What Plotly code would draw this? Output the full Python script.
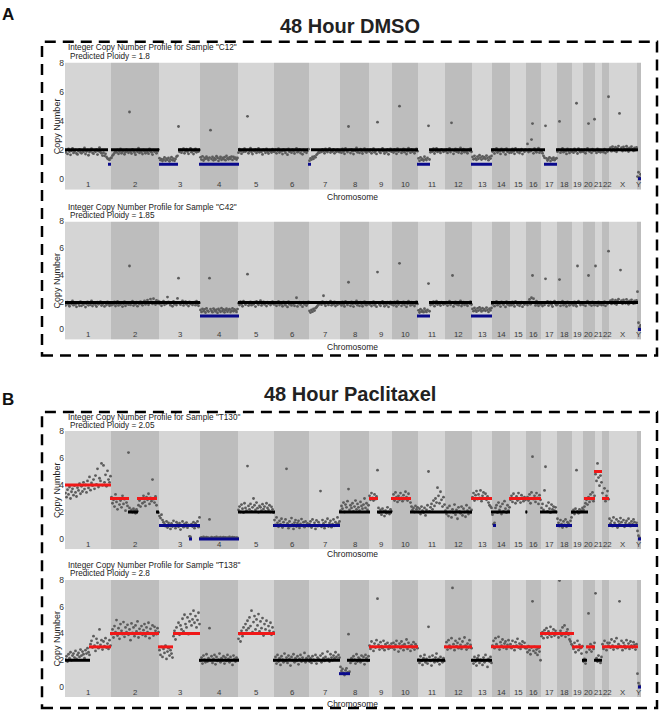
import plotly.graph_objects as go

# ---------------- data ----------------
chrom_names = ["1","2","3","4","5","6","7","8","9","10","11","12","13","14","15","16","17","18","19","20","21","22","X","Y"]
chrom_bins = [46,48,41,38,36,35,31,29,23,26,27,27,20,18,16,15,16,15,11,12,7,7,28,4]

sample_names = ["C12", "C42", "T130", "T138"]
sample_ploidy = ["1.8", "1.85", "2.05", "2.8"]

# raw copy number per bin (x100), one list per chromosome
c12_raw = [
 [182,196,171,205,188,165,193,210,178,186,199,174,168,191,203,181,176,195,185,212,170,188,197,162,184,192,207,179,173,194,186,201,167,190,215,183,175,160,180,158,172,150,140,135,130,142],
 [145,160,168,178,190,182,199,172,188,205,176,186,194,169,183,200,191,179,460,187,174,203,192,181,166,197,186,211,178,190,184,170,199,188,176,195,185,173,206,190,182,167,198,187,193,175,189,201],
 [142,128,136,122,133,147,125,138,130,144,120,134,149,127,139,124,137,152,158,360,186,201,180,195,208,176,192,204,187,172,198,210,183,196,170,190,205,182,194,188,199],
 [148,132,155,126,143,137,152,140,129,146,335,136,150,127,142,133,156,145,124,139,151,131,144,135,149,128,157,141,134,147,138,153,130,150,139,145,133,143],
 [180,204,190,173,199,185,207,188,195,430,176,193,211,184,170,197,189,203,178,191,209,182,196,186,168,201,192,179,206,187,174,198,190,181,204,188],
 [186,201,175,194,208,181,196,189,170,203,192,178,199,166,205,187,194,180,200,191,174,197,210,183,192,202,177,195,169,199,186,196,179,193,204],
 [125,140,132,150,138,155,148,165,172,182,180,196,185,203,192,176,205,190,184,199,210,181,194,188,202,175,193,186,200,189,183],
 [194,180,205,188,172,209,195,184,360,199,177,203,190,170,198,193,212,182,196,179,204,191,174,195,207,186,181,200,192],
 [188,201,176,194,207,182,192,171,390,199,186,178,196,209,190,174,195,184,202,169,192,205,187],
 [195,181,203,190,172,208,187,500,197,178,193,206,183,199,170,189,211,195,180,202,187,197,176,192,205,190],
 [140,124,148,131,137,126,152,135,129,144,365,133,182,199,188,207,174,193,210,185,198,190,178,203,195,186,197],
 [190,203,178,196,210,184,385,198,172,192,206,187,200,181,195,213,175,190,204,183,197,188,176,201,193,208,186],
 [150,134,158,141,130,153,138,162,146,132,155,140,149,136,160,144,128,151,139,157],
 [188,203,174,195,209,181,197,190,171,205,193,184,200,168,207,187,196,179],
 [194,181,206,189,172,209,196,184,199,177,190,204,170,195,186,201],
 [196,240,184,203,190,270,380,175,207,193,182,199,211,180,195],
 [190,176,158,145,365,140,126,136,148,122,139,131,145,128,137,142],
 [187,201,395,180,194,209,183,198,190,171,205,193,178,200,188],
 [195,180,205,189,520,174,208,194,183,199,190],
 [185,200,176,195,209,380,188,197,179,204,192,410],
 [193,178,205,187,199,182,196],
 [196,183,204,177,198,188,565],
 [202,215,190,222,205,193,218,186,210,225,450,200,214,191,220,206,195,224,208,188,213,199,221,203,192,212,197,216],
 [15,45,10,30],
]
c42_raw = [
 [178,194,203,185,172,198,189,211,180,193,186,168,201,190,176,207,175,192,184,199,166,188,204,179,195,183,212,174,190,197,182,170,202,187,191,206,177,185,199,171,193,181,205,189,176,187],
 [180,196,187,204,174,190,208,178,193,185,201,170,189,206,176,192,199,184,470,182,195,210,177,191,186,203,173,194,188,207,190,179,198,212,186,202,218,183,196,225,205,189,228,200,185,215,194,209],
 [188,203,176,195,209,183,199,190,240,205,192,180,201,172,208,187,196,181,230,380,193,184,200,212,178,195,206,186,198,174,204,189,199,182,194,203,180,210,188,176,197],
 [145,130,153,136,148,126,157,140,133,380,151,138,128,155,144,134,147,124,152,141,131,158,137,149,127,143,154,132,146,150,129,139,156,135,148,142,130,151],
 [195,181,206,189,172,210,196,184,199,410,177,190,205,180,197,187,203,170,208,192,183,200,213,178,194,204,186,198,174,202,190,199,181,193,207,188],
 [186,200,176,194,208,181,197,189,172,204,191,180,199,167,206,187,195,178,201,190,175,197,235,171,193,203,183,194,169,202,186,198,177,191,205],
 [138,125,146,132,152,140,158,165,175,183,190,199,184,206,250,188,176,203,193,182,198,210,179,195,187,204,174,192,183,200,189],
 [193,178,204,187,171,208,194,182,350,199,176,205,189,170,197,192,211,180,196,175,203,190,172,194,207,184,180,200,191],
 [186,200,174,193,206,180,191,169,425,201,185,176,196,208,189,172,194,182,203,168,190,204,186],
 [196,179,204,188,171,209,185,490,198,175,192,205,182,199,168,188,210,194,178,202,185,197,174,191,206,189],
 [142,126,150,133,139,128,154,137,130,146,340,135,181,198,187,206,173,192,209,184,197,189,177,202,194,185,196],
 [189,202,177,195,209,183,197,400,171,191,205,186,199,180,194,212,174,189,203,182,196,187,175,200,192,207,185],
 [152,136,160,143,132,156,140,164,148,134,158,142,151,138,162,146,130,154,141,159],
 [187,202,173,194,208,180,196,189,170,204,192,183,199,167,206,186,195,178],
 [193,180,205,188,171,208,195,183,198,176,189,203,169,194,185,200],
 [194,181,205,222,187,235,400,228,201,178,209,190,176,198,186],
 [189,174,201,182,375,196,208,177,193,204,185,170,199,210,188,180],
 [186,202,370,175,195,209,180,198,189,171,204,193,179,200,188],
 [194,178,204,187,172,470,209,195,181,199,189],
 [182,200,175,195,210,400,186,198,177,204,192,180],
 [470,193,176,205,186,199,181],
 [197,182,206,175,199,188,580],
 [200,214,189,221,204,192,217,185,209,224,199,440,213,190,219,205,194,223,207,187,212,198,220,202,191,211,196,215],
 [280,50,15,30],
]
t130_raw = [
 [340,310,365,330,385,300,350,372,325,395,345,315,380,360,410,335,390,352,420,370,400,345,430,378,460,362,415,395,440,372,470,405,520,385,450,430,560,398,545,420,475,390,505,440,420,465],
 [310,265,290,240,330,275,220,300,255,285,235,320,260,295,210,270,245,640,230,205,215,198,225,210,190,220,205,250,285,240,300,265,320,275,245,310,290,335,260,305,280,440,295,270,315,250,200,195],
 [170,155,180,140,125,110,95,130,85,120,105,75,115,92,135,100,80,125,108,90,118,70,102,130,88,112,95,122,84,105,20,15,110,92,125,80,115,98,130,88,160],
 [8,12,5,15,10,6,14,9,11,145,7,13,10,4,12,8,15,6,11,9,13,5,10,14,8,12,7,11,9,15,6,10,13,8,12,5,10,9],
 [215,240,200,255,225,195,265,230,210,540,245,220,260,205,235,300,250,215,270,228,198,245,235,210,258,222,240,205,265,230,215,250,200,238,220,195],
 [140,105,160,120,90,135,110,150,85,125,100,145,520,115,80,130,95,155,108,75,122,140,92,118,135,82,112,148,98,125,88,130,105,115,95],
 [110,130,85,145,100,120,75,138,95,125,105,355,90,140,115,80,128,102,150,92,118,135,88,110,145,98,125,108,160,115,130],
 [210,245,225,270,200,255,235,280,370,215,250,230,265,205,240,285,220,260,235,210,275,245,225,255,300,230,265,215,250],
 [320,290,340,305,285,330,295,315,510,230,195,215,180,225,205,170,210,190,235,200,185,220,205],
 [300,330,285,345,310,275,320,290,340,305,280,325,295,350,310,285,335,300,270,240,215,230,200,245,220,235],
 [200,225,185,240,210,195,230,175,215,250,500,205,235,260,220,285,245,300,270,380,320,265,350,290,240,310,255],
 [210,185,230,170,245,200,160,220,195,255,180,215,150,235,205,190,240,175,225,200,165,250,210,185,230,195,215],
 [310,340,285,325,355,295,330,305,360,280,320,345,300,335,290,315,270,250,240,230],
 [180,110,120,230,250,195,270,215,240,185,260,205,280,225,195,250,210,235],
 [290,320,275,335,300,265,315,285,340,295,270,325,305,280,310,290],
 [200,310,285,330,265,345,610,295,320,275,340,305,260,325,290],
 [230,260,215,360,535,245,205,270,225,195,255,220,240,210,235,200],
 [150,120,95,140,110,85,130,105,145,90,125,115,100,135,160],
 [195,215,185,225,510,205,190,220,200,210,230],
 [215,240,265,290,255,310,275,330,295,345,280,320],
 [480,430,560,455,395,470,420],
 [340,300,375,280,320,355,295],
 [150,115,135,95,160,120,105,145,85,130,110,155,125,100,140,90,120,135,105,150,115,95,130,110,145,125,100,120],
 [60,25,10,5],
]
t138_raw = [
 [205,230,190,245,215,260,200,235,250,220,270,210,240,255,225,280,235,265,245,215,275,250,290,260,240,320,345,295,380,310,270,360,330,290,430,315,350,280,340,305,365,295,325,285,350,310],
 [395,430,370,455,410,500,385,440,360,470,420,395,485,375,445,410,465,390,430,350,475,405,445,380,460,415,490,370,435,405,455,390,425,470,380,445,410,480,365,435,400,460,385,450,420,395,440,410],
 [275,240,300,225,285,255,310,210,265,290,235,275,250,220,380,420,355,445,400,480,390,460,430,510,415,540,470,445,520,395,490,545,460,505,570,480,530,445,500,555,470],
 [195,220,175,235,205,185,245,190,215,440,200,230,180,210,240,170,225,195,205,250,185,215,200,230,175,220,195,240,210,185,225,200,165,235,210,190,220,205],
 [360,395,340,420,380,445,400,470,425,495,440,520,455,570,410,485,530,430,505,460,545,415,490,440,515,385,470,430,495,400,455,420,480,390,445,410],
 [200,225,175,240,190,215,165,230,205,185,250,195,220,180,235,210,160,225,200,245,185,215,195,230,170,210,240,190,220,200,255,185,215,205,230],
 [190,215,180,230,205,195,240,175,220,210,200,235,185,250,215,195,225,205,265,210,190,245,220,200,235,215,260,225,205,240,220],
 [150,120,135,105,90,125,140,110,395,115,180,215,195,230,205,175,245,190,220,210,185,235,200,225,170,240,215,195,230],
 [310,285,340,300,270,325,295,350,660,315,280,335,305,290,345,275,320,300,330,285,310,295,325],
 [295,330,280,315,345,300,265,325,290,340,310,275,320,300,355,285,330,305,270,315,295,335,280,320,305,290],
 [205,180,230,195,165,215,240,185,210,175,450,225,195,160,235,205,185,220,250,190,210,170,225,200,185,215,195],
 [300,335,280,350,310,290,365,740,320,275,345,305,330,290,360,315,285,340,300,370,310,280,325,295,350,315,290],
 [200,175,225,190,160,215,235,180,205,195,165,220,185,240,200,150,210,190,225,180],
 [310,345,290,365,320,300,375,280,335,310,355,295,325,340,285,315,350,300],
 [320,290,345,305,275,335,310,360,295,325,285,315,340,300,330,290],
 [290,260,305,275,245,295,640,270,300,255,280,240,290,265,200],
 [380,410,365,425,395,440,370,415,390,450,375,405,430,385,420,395],
 [400,370,795,420,385,445,395,460,375,410,430,390,355,340,320],
 [310,285,330,260,300,345,275,315,290,250,305],
 [190,210,175,260,300,550,280,320,265,305,285,330],
 [700,215,190,235,200,180,225],
 [320,285,345,300,275,330,310],
 [330,295,355,310,280,340,300,365,290,320,640,305,345,275,330,310,290,350,300,325,285,340,310,295,335,315,280,320],
 [100,30,10,5],
]

# integer copy-number segments (bin coordinates)
c12_seg_start = [0,43,46,94,113,134,173,243,246,352,364,406,426,479,491,573]
c12_seg_end   = [43,46,94,113,135,174,243,246,353,365,407,427,480,492,573,576]
c12_seg_cn    = [2,1,2,1,2,1,2,1,2,1,2,1,2,1,2,0]

c42_seg_start = [0,135,173,352,364,406,426,573]
c42_seg_end   = [135,174,353,365,407,427,573,576]
c42_seg_cn    = [2,1,2,1,2,1,2,0]

t130_seg_start = [0,45,63,72,91,94,124,134,173,208,274,304,312,326,345,406,426,428,444,460.5,475,491,506,519,529,537,543,573]
t130_seg_end   = [46,64,73,92,94,135,127,174,210,275,305,313,327,346,407,427,445,431,476,462,492,507,523,530,537,544,573,576]
t130_seg_cn    = [4,3,2,3,2,1,0,0,2,1,2,3,2,3,2,3,2,1,3,2,2,1,2,3,5,3,1,0]

t138_seg_start = [0,24,45,93,108,134,173,208,274,282,304,352,379,406,426,475,507,517,521,529,537,573]
t138_seg_end   = [25,46,94,108,135,174,210,275,285,305,353,380,407,427,476,509,518,522,530,537,573,576]
t138_seg_cn    = [2,3,4,3,4,2,4,2,1,2,3,2,3,2,3,4,3,2,3,2,3,0]

# ---------------- figure ----------------
W, H = 660, 710
FONT = "Liberation Sans, Arial, Helvetica, sans-serif"

def px(x):
    return x / W

def py(y):
    return 1 - y / H

raws = [c12_raw, c42_raw, t130_raw, t138_raw]
segs = [
    (c12_seg_start, c12_seg_end, c12_seg_cn),
    (c42_seg_start, c42_seg_end, c42_seg_cn),
    (t130_seg_start, t130_seg_end, t130_seg_cn),
    (t138_seg_start, t138_seg_end, t138_seg_cn),
]

starts = []
acc = 0
for b in chrom_bins:
    starts.append(acc)
    acc += b
total_bins = acc
centers = [s + b / 2 for s, b in zip(starts, chrom_bins)]
label_shift = {"20": -1, "21": -0.5, "22": 1.5}

X0, X1 = 65, 641
panel_px = [(58, 186), (218, 337), (429, 548), (579, 697)]
chromo_title_y = [193, 344, 553, 704]
title1_y = [43, 204, 415, 564]
title2_y = [52, 212, 423, 573]
YMIN, YMAX = -0.75, 8

fig = go.Figure()
shapes = []
annotations = []

LIGHT, DARK = "#d5d5d5", "#bdbdbd"
COL_EQ, COL_LO, COL_HI = "#000000", "#0a0a8c", "#f01818"

for i in range(4):
    xa = "x" if i == 0 else f"x{i+1}"
    ya = "y" if i == 0 else f"y{i+1}"
    for c in range(len(chrom_bins)):
        shapes.append(dict(type="rect", xref=xa, yref=ya, x0=starts[c], x1=starts[c] + chrom_bins[c],
                           y0=YMIN, y1=YMAX, fillcolor=LIGHT if c % 2 == 0 else DARK,
                           line=dict(width=0), layer="below"))
    xs, ys = [], []
    for c, vals in enumerate(raws[i]):
        n = len(vals)
        w = chrom_bins[c]
        for k, v in enumerate(vals):
            xs.append(starts[c] + (k + 0.5) * w / n)
            ys.append(v / 100)
    fig.add_trace(go.Scatter(x=xs, y=ys, mode="markers", xaxis=xa, yaxis=ya,
                             marker=dict(size=2.8, color="#5c5c5c", line=dict(width=0)),
                             hoverinfo="skip", showlegend=False))
    s_start, s_end, s_cn = segs[i]
    groups = {COL_EQ: ([], []), COL_LO: ([], []), COL_HI: ([], [])}
    for a, b, cn in zip(s_start, s_end, s_cn):
        col = COL_EQ if cn == 2 else (COL_LO if cn < 2 else COL_HI)
        groups[col][0].extend([a, b, None])
        groups[col][1].extend([cn, cn, None])
    for col, (gx, gy) in groups.items():
        if gx:
            fig.add_trace(go.Scatter(x=gx, y=gy, mode="lines", xaxis=xa, yaxis=ya,
                                     line=dict(color=col, width=3), hoverinfo="skip",
                                     showlegend=False, connectgaps=False))
    for name, cx in zip(chrom_names, centers):
        annotations.append(dict(text=name, x=cx, y=-0.37, xref=xa, yref=ya, showarrow=False,
                                xanchor="center", yanchor="middle", xshift=label_shift.get(name, 0),
                                font=dict(family=FONT, size=7.8, color="#3a3a3a")))
    top, bot = panel_px[i]
    fig.layout[("xaxis" if i == 0 else f"xaxis{i+1}")] = dict(
        domain=[px(X0), px(X1)], range=[0, total_bins], anchor=ya,
        showgrid=False, zeroline=False, showticklabels=False, ticks="", showline=False, fixedrange=True)
    fig.layout[("yaxis" if i == 0 else f"yaxis{i+1}")] = dict(
        domain=[py(bot), py(top)], range=[YMIN, YMAX], anchor=xa,
        tickvals=[0, 2, 4, 6, 8], ticktext=["0", "2", "4", "6", "8"],
        tickfont=dict(family=FONT, size=8.5, color="#333333"),
        showgrid=False, zeroline=False, ticks="", showline=False, fixedrange=True)
    annotations.append(dict(text="Copy Number", x=px(57), y=py((top + bot) / 2), xref="paper", yref="paper",
                            textangle=-90, showarrow=False, xanchor="center", yanchor="middle",
                            font=dict(family=FONT, size=9, color="#222222")))
    annotations.append(dict(text="Chromosome", x=px((X0 + X1) / 2), y=py(chromo_title_y[i]), xref="paper", yref="paper",
                            showarrow=False, xanchor="center", yanchor="middle",
                            font=dict(family=FONT, size=8.5, color="#222222")))
    annotations.append(dict(text=f'Integer Copy Number Profile for Sample "{sample_names[i]}"',
                            x=px(66), y=py(title1_y[i]), xref="paper", yref="paper", showarrow=False,
                            xanchor="left", yanchor="middle", font=dict(family=FONT, size=8.2, color="#222222")))
    annotations.append(dict(text=f"Predicted Ploidy = {sample_ploidy[i]}",
                            x=px(68), y=py(title2_y[i]), xref="paper", yref="paper", showarrow=False,
                            xanchor="left", yanchor="middle", font=dict(family=FONT, size=8.2, color="#222222")))

for (y0, y1) in [(37, 353), (410, 708)]:
    shapes.append(dict(type="rect", xref="paper", yref="paper", x0=px(42), x1=px(657), y0=py(y1), y1=py(y0),
                       line=dict(color="black", width=2.5, dash="11px,7px"), fillcolor="rgba(0,0,0,0)"))

annotations += [
    dict(text="<b>A</b>", x=px(8), y=py(10), xref="paper", yref="paper", showarrow=False,
         xanchor="center", yanchor="middle", font=dict(family=FONT, size=17, color="#111111")),
    dict(text="<b>B</b>", x=px(8), y=py(397), xref="paper", yref="paper", showarrow=False,
         xanchor="center", yanchor="middle", font=dict(family=FONT, size=17, color="#111111")),
    dict(text="<b>48 Hour DMSO</b>", x=px(350), y=py(21), xref="paper", yref="paper", showarrow=False,
         xanchor="center", yanchor="middle", font=dict(family=FONT, size=20, color="#222222")),
    dict(text="<b>48 Hour Paclitaxel</b>", x=px(350), y=py(392), xref="paper", yref="paper", showarrow=False,
         xanchor="center", yanchor="middle", font=dict(family=FONT, size=20, color="#222222")),
]

fig.update_layout(width=W, height=H, autosize=False, margin=dict(l=0, r=0, t=0, b=0),
                  paper_bgcolor="white", plot_bgcolor="white", showlegend=False,
                  shapes=shapes, annotations=annotations, font=dict(family=FONT))

fig.write_html("out.html", config={"displayModeBar": False, "staticPlot": True},
               post_script="document.body.style.margin='0px';")
